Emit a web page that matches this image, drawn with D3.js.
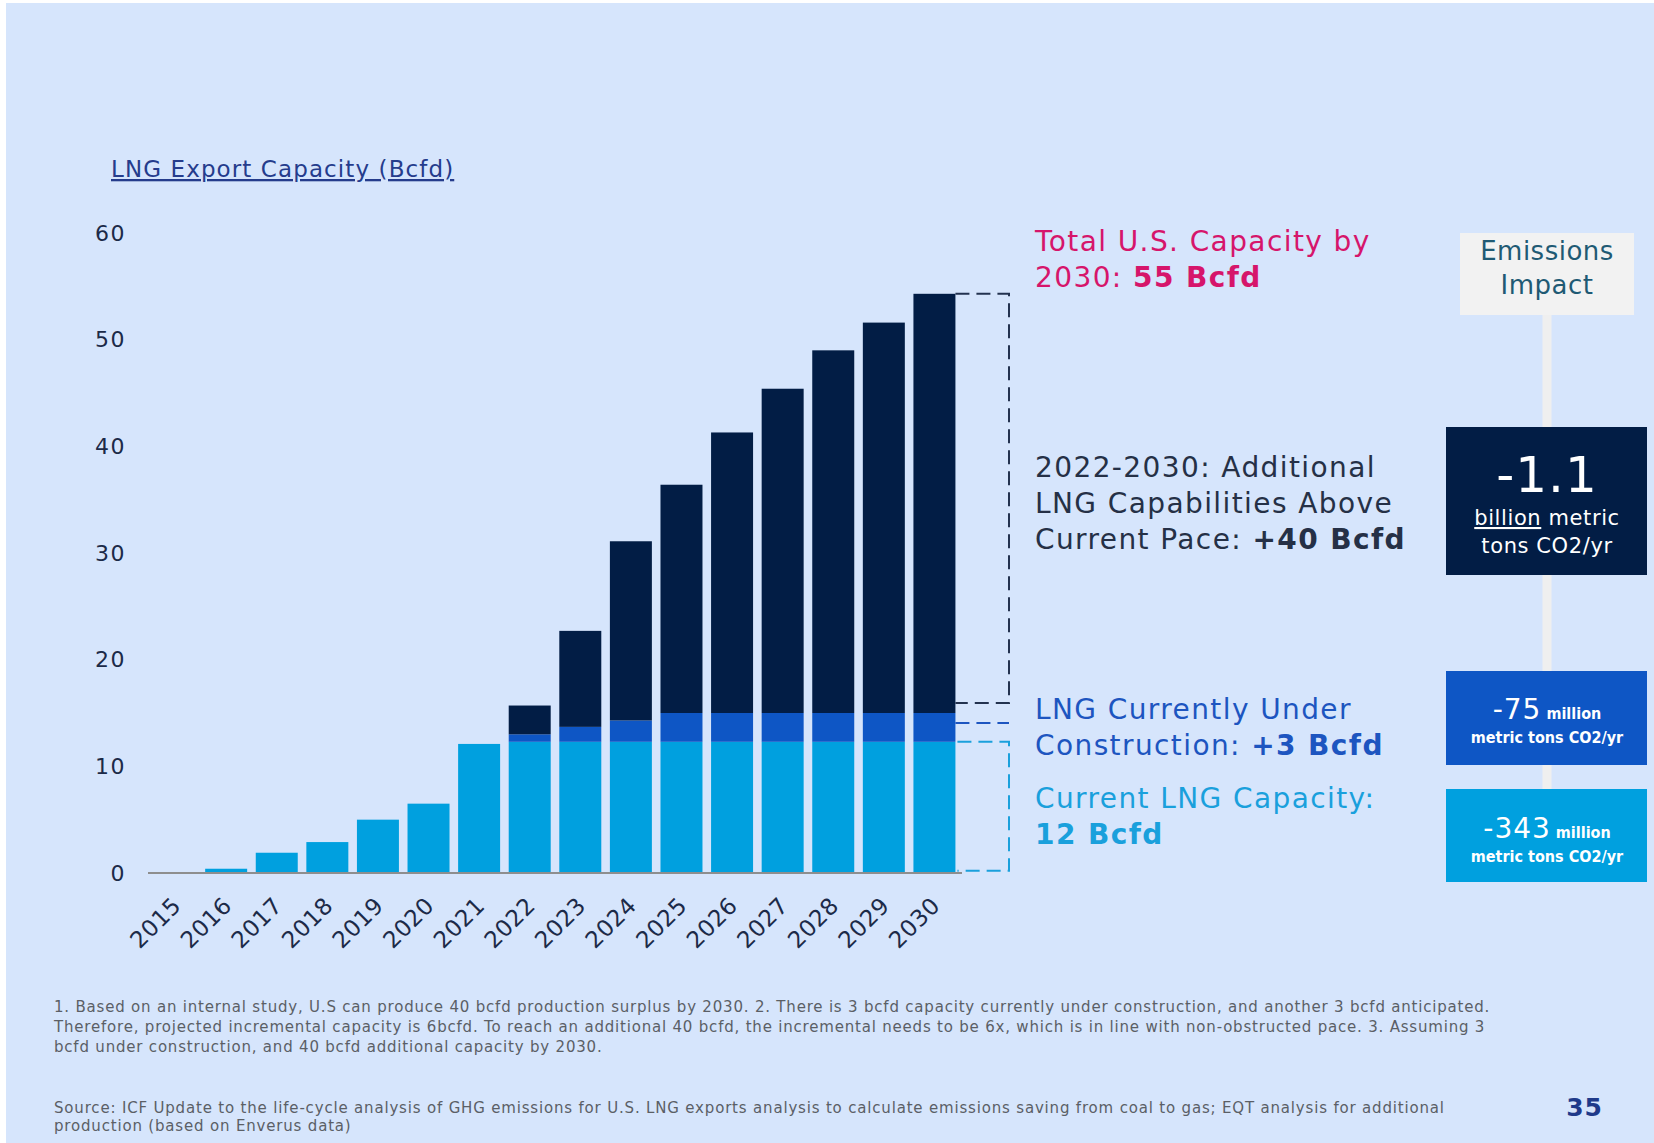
<!DOCTYPE html>
<html>
<head>
<meta charset="utf-8">
<script src="https://cdn.jsdelivr.net/npm/d3@7"></script>
<style>
  body { margin: 0; background: #ffffff; }
  text { font-family: "DejaVu Sans", Verdana, sans-serif; }
</style>
</head>
<body>
<div id="chart"></div>
<script>
// data (Bcfd)
var years = ["2015","2016","2017","2018","2019","2020","2021","2022","2023","2024","2025","2026","2027","2028","2029","2030"];
var currentCap = [0, 0.4, 1.9, 2.9, 5.0, 6.5, 12.1, 12.3, 12.3, 12.3, 12.3, 12.3, 12.3, 12.3, 12.3, 12.3];
var underConstruction = [0, 0, 0, 0, 0, 0, 0, 0.7, 1.4, 2.0, 2.7, 2.7, 2.7, 2.7, 2.7, 2.7];
var additional = [0, 0, 0, 0, 0, 0, 0, 2.7, 9.0, 16.8, 21.4, 26.3, 30.4, 34.0, 36.6, 39.3];
var yTicks = [0, 10, 20, 30, 40, 50, 60];
var seriesKeys = ["current", "construction", "additional"];
var seriesColors = ["#00a0df", "#0e56c5", "#021d45"];

var W = 1654, H = 1143;

var svg = d3.select("#chart")
  .append("svg")
    .attr("width", W)
    .attr("height", H);

// slide background
svg.append("rect")
  .attr("x", 6).attr("y", 3)
  .attr("width", W - 6).attr("height", H - 3)
  .style("fill", "#d6e5fc");

var x = d3.scaleBand()
  .domain(years)
  .range([148, 962])
  .paddingInner(0.17)
  .paddingOuter(0.13);

var y = d3.scaleLinear()
  .domain([0, 60])
  .range([873, 233]);

// stacked table
var table = years.map(function(yr, i) {
  return { year: yr, current: currentCap[i], construction: underConstruction[i], additional: additional[i] };
});
var stacked = d3.stack().keys(seriesKeys)(table);

svg.append("g")
  .selectAll("g")
  .data(stacked)
  .enter()
  .append("g")
    .style("fill", function(d, i) { return seriesColors[i]; })
  .selectAll("rect")
  .data(function(d) { return d; })
  .enter()
  .append("rect")
    .attr("x", function(d) { return x(d.data.year); })
    .attr("y", function(d) { return y(d[1]); })
    .attr("width", x.bandwidth())
    .attr("height", function(d) { return y(d[0]) - y(d[1]); });

// baseline
svg.append("line")
  .attr("x1", 148).attr("x2", 962)
  .attr("y1", y(0)).attr("y2", y(0))
  .style("stroke", "#8e8e8e")
  .style("stroke-width", 2);

// y axis labels (no line, no ticks)
var y_axis = d3.axisLeft(y).tickValues(yTicks).tickSize(0).tickPadding(0);
var yg = svg.append("g")
  .attr("transform", "translate(126,0)")
  .call(y_axis);
yg.select(".domain").remove();
yg.selectAll("text")
  .style("font-family", "DejaVu Sans")
  .style("font-size", "22px")
  .style("letter-spacing", "1.5px")
  .style("fill", "#1c2a48");

// x labels rotated
svg.append("g")
  .selectAll("text")
  .data(years)
  .enter()
  .append("text")
    .attr("transform", function(d) {
      return "translate(" + (x(d) + x.bandwidth() / 2 + 7) + "," + 907 + ") rotate(-45)";
    })
    .style("text-anchor", "end")
    .style("font-size", "23px")
    .style("letter-spacing", "0.5px")
    .style("fill", "#1c2a48")
    .text(function(d) { return d; });

// axis title
svg.append("text")
  .attr("x", 111).attr("y", 177)
  .style("font-size", "23px")
  .style("letter-spacing", "1.1px")
  .style("fill", "#253c8c")
  .style("text-decoration", "underline")
  .text("LNG Export Capacity (Bcfd)");

// dashed brackets
var last = table[table.length - 1];
var bx0 = x("2030") + x.bandwidth(), bx1 = 1009;
function dashed(points, color) {
  svg.append("path")
    .attr("d", d3.line()(points))
    .style("fill", "none")
    .style("stroke", color)
    .style("stroke-width", 2)
    .style("stroke-dasharray", "14,7");
}
var topY = y(last.current + last.construction + last.additional);
var midY = y(last.current + last.construction);
var curY = y(last.current);
dashed([[bx0, topY], [bx1, topY], [bx1, midY - 10], [bx0, midY - 10]], "#23324f");
dashed([[bx0, midY + 10], [bx1, midY + 10]], "#1d55c0");
dashed([[bx0 + 2, curY], [bx1, curY], [bx1, y(0.2)], [bx0 + 2, y(0.2)]], "#1aa0dc");

// annotations on the right
function note(xp, yp, lines, color, size) {
  lines.forEach(function(parts, i) {
    var t = svg.append("text")
      .attr("x", xp).attr("y", yp + i * 36)
      .style("font-size", size + "px")
      .style("letter-spacing", "1.4px")
      .style("fill", color);
    parts.forEach(function(p) {
      t.append("tspan")
        .style("font-weight", p[1] ? "bold" : "normal")
        .text(p[0]);
    });
  });
}
note(1035, 251, [[["Total U.S. Capacity by", false]], [["2030: ", false], ["55 Bcfd", true]]], "#d6156b", 28);
note(1035, 477, [[["2022-2030: Additional", false]], [["LNG Capabilities Above", false]], [["Current Pace:  ", false], ["+40 Bcfd", true]]], "#253046", 28);
note(1035, 719, [[["LNG Currently Under", false]], [["Construction:  ", false], ["+3 Bcfd", true]]], "#1d55c0", 28);
note(1035, 808, [[["Current LNG Capacity:", false]], [["12 Bcfd", true]]], "#1aa0dc", 28);

// emissions panel
var cx = 1547;
svg.append("line")
  .attr("x1", cx).attr("x2", cx)
  .attr("y1", 300).attr("y2", 800)
  .style("stroke", "#efefef")
  .style("stroke-width", 9);
svg.append("rect")
  .attr("x", 1460).attr("y", 233).attr("width", 174).attr("height", 82)
  .style("fill", "#f2f2f2");
svg.append("text").attr("x", cx).attr("y", 260)
  .style("text-anchor", "middle").style("font-size", "26px").style("letter-spacing", "0.5px")
  .style("fill", "#1f5a74")
  .text("Emissions");
svg.append("text").attr("x", cx).attr("y", 294)
  .style("text-anchor", "middle").style("font-size", "26px").style("letter-spacing", "0.5px")
  .style("fill", "#1f5a74")
  .text("Impact");

var boxes = [
  { y0: 427, y1: 575, fill: seriesColors[2] },
  { y0: 671, y1: 765, fill: seriesColors[1] },
  { y0: 789, y1: 882, fill: seriesColors[0] }
];
svg.selectAll(".ebox")
  .data(boxes)
  .enter()
  .append("rect")
    .attr("class", "ebox")
    .attr("x", 1446).attr("y", function(d) { return d.y0; })
    .attr("width", 201).attr("height", function(d) { return d.y1 - d.y0; })
    .style("fill", function(d) { return d.fill; });

svg.append("text").attr("x", cx).attr("y", 492)
  .style("text-anchor", "middle").style("font-size", "50px").style("letter-spacing", "1px")
  .style("fill", "#fff")
  .text("-1.1");
var b2 = svg.append("text").attr("x", cx).attr("y", 525)
  .style("text-anchor", "middle").style("font-size", "21px").style("letter-spacing", "0.6px")
  .style("fill", "#fff");
b2.append("tspan").style("text-decoration", "underline").text("billion");
b2.append("tspan").text(" metric");
svg.append("text").attr("x", cx).attr("y", 553)
  .style("text-anchor", "middle").style("font-size", "21px").style("letter-spacing", "0.6px")
  .style("fill", "#fff")
  .text("tons CO2/yr");

function smallBox(yb, big) {
  var t = svg.append("text").attr("x", cx).attr("y", yb)
    .style("text-anchor", "middle").style("fill", "#fff");
  t.append("tspan").style("font-size", "28px").style("letter-spacing", "1px").text(big);
  t.append("tspan").style("font-size", "16px").style("font-weight", "bold")
    .style("font-family", "DejaVu Sans Condensed").text(" million");
  svg.append("text").attr("x", cx).attr("y", yb + 24)
    .style("text-anchor", "middle").style("fill", "#fff")
    .style("font-size", "16px").style("font-weight", "bold")
    .style("font-family", "DejaVu Sans Condensed")
    .text("metric tons CO2/yr");
}
smallBox(719, "-75");
smallBox(838, "-343");

// footnotes
var foot = [
  "1. Based on an internal study, U.S can produce 40 bcfd production surplus by 2030. 2. There is 3 bcfd capacity currently under construction, and another 3 bcfd anticipated.",
  "Therefore, projected incremental capacity is 6bcfd. To reach an additional 40 bcfd, the incremental needs to be 6x, which is in line with non-obstructed pace. 3. Assuming 3",
  "bcfd under construction, and 40 bcfd additional capacity by 2030."
];
var src = [
  "Source: ICF Update to the life-cycle analysis of GHG emissions for U.S. LNG exports analysis to calculate emissions saving from coal to gas; EQT analysis for additional",
  "production (based on Enverus data)"
];
svg.append("g").selectAll("text").data(foot).enter().append("text")
  .attr("x", 54).attr("y", function(d, i) { return 1012 + i * 20; })
  .style("font-size", "15px").style("letter-spacing", "0.8px").style("fill", "#5b5f66")
  .text(function(d) { return d; });
svg.append("g").selectAll("text").data(src).enter().append("text")
  .attr("x", 54).attr("y", function(d, i) { return 1113 + i * 18; })
  .style("font-size", "15px").style("letter-spacing", "0.82px").style("fill", "#5b5f66")
  .text(function(d) { return d; });

svg.append("text").attr("x", 1603).attr("y", 1116)
  .style("text-anchor", "end").style("font-size", "25px").style("font-weight", "bold")
  .style("letter-spacing", "1px")
  .style("fill", "#1f3a8a")
  .text("35");
</script>
</body>
</html>
